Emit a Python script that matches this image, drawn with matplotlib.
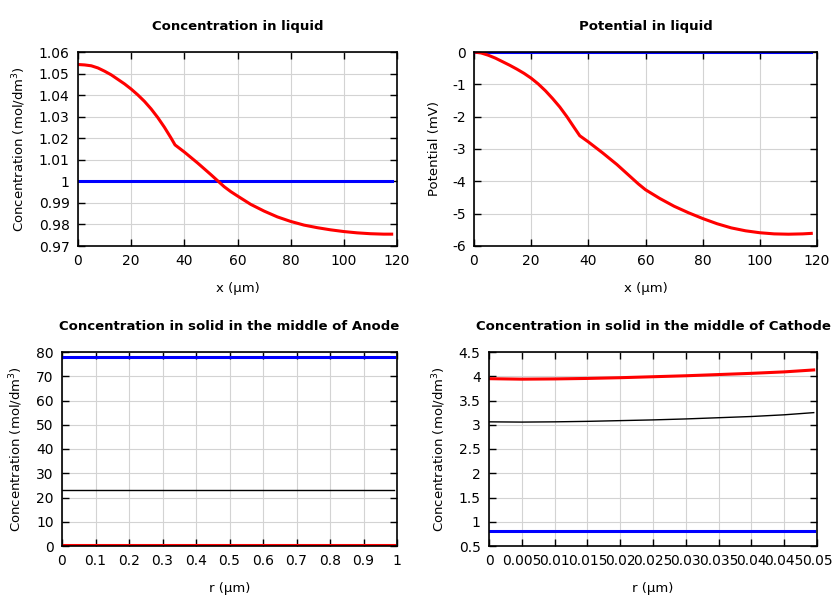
import matplotlib
matplotlib.use("Agg")
import matplotlib.pyplot as plt
from matplotlib.ticker import FixedLocator, FuncFormatter

# ---- data ----
x_c = [0, 2.5, 5, 7.5, 10, 12.5, 15, 17.5, 20, 22.5, 25, 27.5, 30, 32.5, 35,
       36.5, 40, 45, 50, 55, 57.5, 60, 65, 70, 75, 80, 85, 90, 95, 100, 105,
       110, 115, 118]
c_liq = [1.0542, 1.0540, 1.0536, 1.0526, 1.0511, 1.0494, 1.0473, 1.0452, 1.0428,
         1.0401, 1.0371, 1.0336, 1.0296, 1.0251, 1.0201, 1.0169, 1.0136, 1.0085,
         1.0031, 0.9975, 0.9952, 0.9932, 0.9893, 0.9862, 0.9835, 0.9814, 0.9797,
         0.9785, 0.9775, 0.9767, 0.9761, 0.9757, 0.9755, 0.9755]
c_liq_init = [1.0, 1.0]

x_p = [0, 2.5, 5, 7.5, 10, 12.5, 15, 17.5, 20, 22.5, 25, 27.5, 30, 32.5, 35,
       37, 40, 45, 50, 55, 57.5, 60, 65, 70, 75, 80, 85, 90, 95, 100, 105,
       110, 115, 118]
phi_liq = [0.0, -0.03, -0.10, -0.19, -0.30, -0.41, -0.53, -0.66, -0.81, -0.99,
           -1.20, -1.44, -1.70, -2.00, -2.33, -2.59, -2.78, -3.12, -3.48, -3.88,
           -4.08, -4.26, -4.53, -4.77, -4.97, -5.15, -5.31, -5.44, -5.53, -5.59,
           -5.625, -5.635, -5.625, -5.61]
phi_liq_init = [0.0, 0.0]

r_anode = [0, 0.99]
anode_init = [78.0, 78.0]
anode_mid = [23.0, 23.0]
anode_end = [0.5, 0.5]

r_cath = [0, 0.005, 0.01, 0.015, 0.02, 0.025, 0.03, 0.035, 0.04, 0.045, 0.0495]
cath_end = [3.95, 3.94, 3.945, 3.955, 3.97, 3.99, 4.01, 4.035, 4.06, 4.09, 4.13]
cath_mid = [3.06, 3.055, 3.06, 3.07, 3.085, 3.10, 3.12, 3.145, 3.17, 3.205, 3.25]
cath_init = [0.8] * len(r_cath)

RED = '#ff0000'
BLUE = '#0000ff'

plt.rcParams['font.family'] = 'DejaVu Sans'
plt.rcParams['font.size'] = 10

fig = plt.figure(figsize=(8.4, 6.0), dpi=100)

W, H = 840.0, 600.0
def add(l, t, r, b):
    return fig.add_axes([l / W, 1 - b / H, (r - l) / W, (b - t) / H])

ax1 = add(78, 52, 397, 246)
ax2 = add(474, 52, 817, 246)
ax3 = add(62, 352, 397, 546)
ax4 = add(489, 352, 817, 546)

fmt = FuncFormatter(lambda v, p: '%g' % round(v, 6))

def style(ax, xlim, ylim, xticks, yticks, xlabel, ylabel, title):
    ax.set_xlim(*xlim)
    ax.set_ylim(*ylim)
    ax.xaxis.set_major_locator(FixedLocator(xticks))
    ax.yaxis.set_major_locator(FixedLocator(yticks))
    ax.xaxis.set_major_formatter(fmt)
    ax.yaxis.set_major_formatter(fmt)
    ax.grid(True, color='#d3d3d3', linewidth=0.8)
    ax.set_axisbelow(True)
    ax.tick_params(direction='in', top=True, right=True, length=5, width=1,
                   labelsize=10, pad=6)
    for s in ax.spines.values():
        s.set_linewidth(1.2)
    ax.set_xlabel(xlabel, fontsize=9.5, labelpad=10)
    ax.set_ylabel(ylabel, fontsize=9.5, labelpad=8)
    ax.set_title(title, fontsize=9.5, fontweight='bold', pad=16)

lw = 2.2
conc_label = r'Concentration (mol/dm$^3$)'

ax1.plot([x_c[0], x_c[-1]], c_liq_init, color=BLUE, lw=lw)
ax1.plot(x_c, c_liq, color=RED, lw=lw)
style(ax1, (0, 120), (0.97, 1.06), [0, 20, 40, 60, 80, 100, 120],
      [0.97, 0.98, 0.99, 1.0, 1.01, 1.02, 1.03, 1.04, 1.05, 1.06],
      'x (µm)', conc_label, 'Concentration in liquid')

ax2.plot([x_p[0], x_p[-1]], phi_liq_init, color=BLUE, lw=lw)
ax2.plot(x_p, phi_liq, color=RED, lw=lw)
style(ax2, (0, 120), (-6, 0), [0, 20, 40, 60, 80, 100, 120],
      [-6, -5, -4, -3, -2, -1, 0],
      'x (µm)', 'Potential (mV)', 'Potential in liquid')

ax3.plot(r_anode, anode_init, color=BLUE, lw=lw)
ax3.plot(r_anode, anode_mid, color='black', lw=1.0)
ax3.plot(r_anode, anode_end, color=RED, lw=lw)
style(ax3, (0, 1), (0, 80), [i / 10 for i in range(11)],
      [0, 10, 20, 30, 40, 50, 60, 70, 80],
      'r (µm)', conc_label, 'Concentration in solid in the middle of Anode')

ax4.plot(r_cath, cath_init, color=BLUE, lw=lw)
ax4.plot(r_cath, cath_mid, color='black', lw=1.0)
ax4.plot(r_cath, cath_end, color=RED, lw=lw)
style(ax4, (0, 0.05), (0.5, 4.5), [i * 0.005 for i in range(11)],
      [0.5, 1, 1.5, 2, 2.5, 3, 3.5, 4, 4.5],
      'r (µm)', conc_label, 'Concentration in solid in the middle of Cathode')

fig.savefig('out.png', dpi=100)
